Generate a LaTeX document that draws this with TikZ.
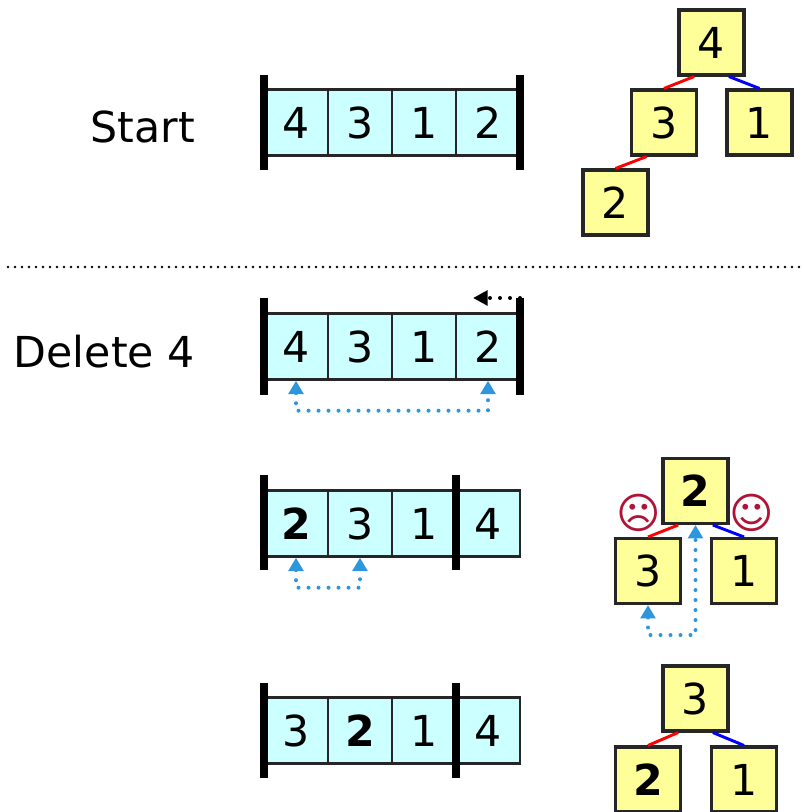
\documentclass[tikz,border=0pt]{standalone}
\usepackage{fontspec}
\setmainfont{DejaVu Sans}
\usetikzlibrary{arrows.meta}

\definecolor{cellfill}{RGB}{204,255,255}
\definecolor{treefill}{RGB}{255,255,153}
\definecolor{swapblue}{RGB}{45,150,220}
\definecolor{facered}{RGB}{175,20,55}

\begin{document}
\begin{tikzpicture}[x=0.75pt, y=-0.75pt,
        big/.style={font=\fontsize{32}{38}\selectfont},
        label/.style={big, anchor=base east, inner sep=0pt},
        cell/.style={rectangle, draw=black!85, line width=1.8pt, fill=cellfill, minimum width=48pt, minimum height=49.5pt, inner sep=0pt, big},
        tnode/.style={rectangle, draw=black!85, line width=2.3pt, fill=treefill, minimum size=48.75pt, inner sep=0pt, big},
        bar/.style={line width=6pt},
        lft/.style={red, line width=2.2pt},
        rgt/.style={blue, line width=2.2pt},
        swap/.style={swapblue, line width=3pt, line cap=round, dash pattern=on 0pt off 7.5pt, {Triangle[length=10pt,width=11pt]}-{Triangle[length=10pt,width=11pt]}},
        back/.style={black, line width=3pt, line cap=round, dash pattern=on 0pt off 7.5pt, -{Triangle[length=11pt,width=11pt]}},
        face/.style={facered, font=\fontsize{32}{34}\selectfont, inner sep=0pt}]
        \useasboundingbox (0,0) rectangle (803,812);

        % Start
        \node[label] (lstart) at (195,143) {Start};
        \foreach \x/\v [count=\i] in {296/4, 360/3, 424/1, 488/2} {
            \node[cell] (A\i) at (\x,122.5) {\v};
        }
        \draw[bar] (264,75) -- (264,170);
        \draw[bar] (520,75) -- (520,170);

        \node[tnode] (S4) at (711.5,42.5) {4};
        \node[tnode] (S3) at (664,122.5) {3};
        \node[tnode] (S1) at (759.5,122.5) {1};
        \node[tnode] (S2) at (615.5,202.5) {2};
        \draw[lft] (S4.-117) -- (S3.north);
        \draw[rgt] (S4.-63) -- (S1.north);
        \draw[lft] (S3.-117) -- (S2.north);

        \draw[black, line width=2pt, line cap=round, dash pattern=on 0pt off 5.25pt] (8,267) -- (803,267);

        % Delete 4
        \node[label] (ldel) at (195,367) {Delete 4};
        \foreach \x/\v [count=\i] in {296/4, 360/3, 424/1, 488/2} {
            \node[cell] (B\i) at (\x,346.5) {\v};
        }
        \draw[bar] (264,298) -- (264,395);
        \draw[bar] (520,298) -- (520,395);
        \coordinate (Btop) at (520,298);
        \coordinate (Btip) at (473,298);
        \draw[back] (Btop) -- (Btip);
        \draw[swap] (B1.south) -- ++(0,30) -| (B4.south);

        % swap 2 down
        \foreach \x/\v [count=\i] in {296/{\bfseries 2}, 360/3, 424/1, 488/4} {
            \node[cell] (C\i) at (\x,523.5) {\v};
        }
        \draw[bar] (264,475) -- (264,570);
        \draw[bar] (456,475) -- (456,570);
        \draw[swap] (C1.south) -- ++(0,30) -| (C2.south);

        \node[tnode] (U2) at (695.5,491) {\bfseries 2};
        \node[tnode] (U3) at (648,571) {3};
        \node[tnode] (U1) at (744,571) {1};
        \draw[lft] (U2.-117) -- (U3.north);
        \draw[rgt] (U2.-63) -- (U1.north);
        \node[face] (sad) at (639,513) {☹};
        \node[face] (happy) at (752,513) {☺};
        \draw[swap] (U3.south) -- ++(0,30) -| (U2.south);

        % after swap
        \foreach \x/\v [count=\i] in {296/3, 360/{\bfseries 2}, 424/1, 488/4} {
            \node[cell] (D\i) at (\x,730.5) {\v};
        }
        \draw[bar] (264,683) -- (264,778);
        \draw[bar] (456,683) -- (456,778);

        \node[tnode] (W3) at (695.5,698.5) {3};
        \node[tnode] (W2) at (648,779.5) {\bfseries 2};
        \node[tnode] (W1) at (744,779.5) {1};
        \draw[lft] (W3.-117) -- (W2.north);
        \draw[rgt] (W3.-63) -- (W1.north);
    \end{tikzpicture}
\end{document}
